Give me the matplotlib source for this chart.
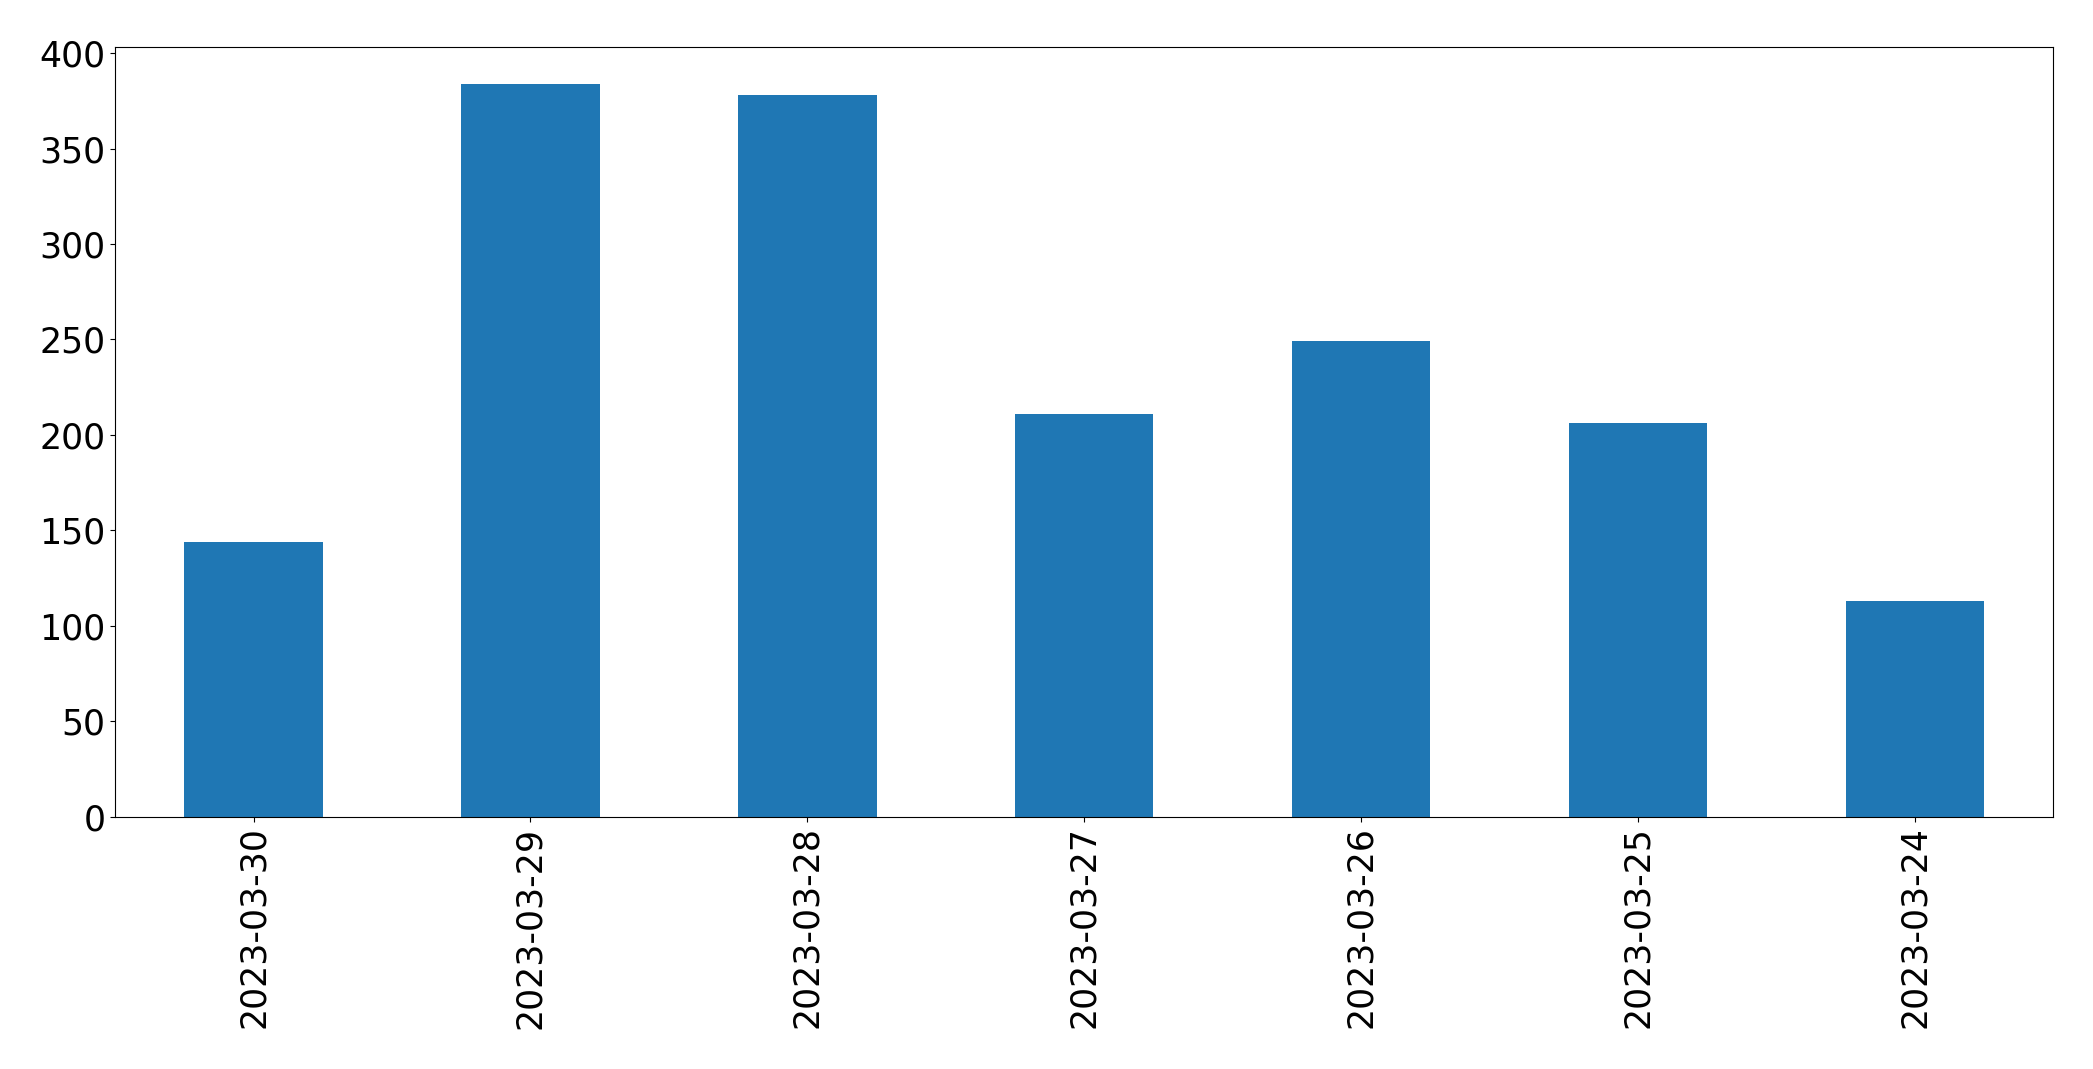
import matplotlib
matplotlib.use("Agg")
import matplotlib.pyplot as plt
import pandas as pd

DATES = ["2023-03-30", "2023-03-29", "2023-03-28", "2023-03-27",
         "2023-03-26", "2023-03-25", "2023-03-24"]
COUNTS = [144, 384, 378, 211, 249, 206, 113]

s = pd.Series(COUNTS, index=DATES)

fig, ax = plt.subplots(figsize=(20.93, 10.69), dpi=100)
s.plot(kind="bar", ax=ax, color="#1f77b4")
ax.tick_params(axis="both", labelsize=25)
plt.subplots_adjust(left=0.055, right=0.981, top=0.956, bottom=0.236)
plt.savefig("out.png", dpi=100)
